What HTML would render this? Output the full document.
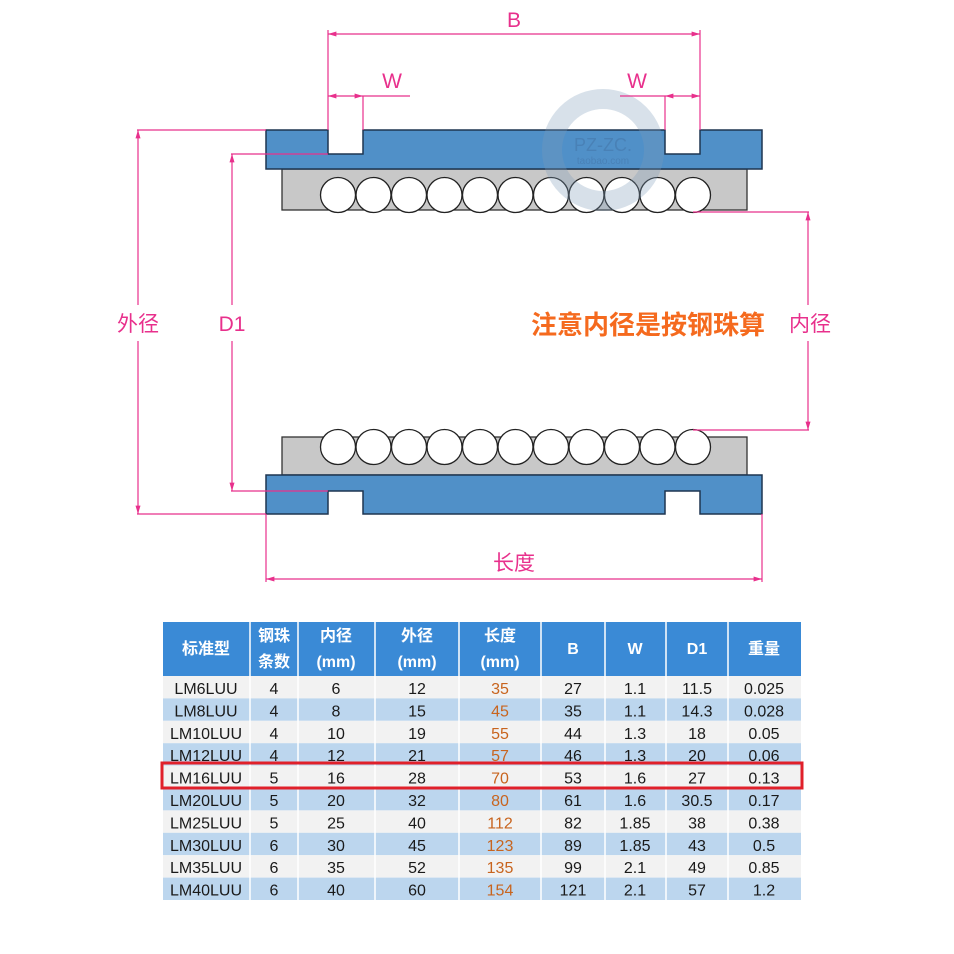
<!DOCTYPE html>
<html><head><meta charset="utf-8">
<style>
html,body{margin:0;padding:0;background:#fff;}
svg{display:block;}
text{font-family:"Liberation Sans","Noto Sans CJK SC",sans-serif;}
</style></head>
<body>
<svg width="954" height="954" viewBox="0 0 954 954" xmlns="http://www.w3.org/2000/svg">
<defs>
<marker id="a" viewBox="0 0 10 10" refX="10" refY="5" markerWidth="7" markerHeight="7" orient="auto-start-reverse"><path d="M0,2 L10,5 L0,8 z" fill="#e8308c"/></marker>
</defs>
<rect width="954" height="954" fill="#fff"/>

<rect x="282" y="169" width="465" height="41" fill="#c8c8c8" stroke="#333" stroke-width="1.3"/>
<path d="M266,130 H328 V154 H363 V130 H665 V154 H700 V130 H762 V169 H266 Z" fill="#5090c8" stroke="#1e3550" stroke-width="1.5"/>
<g fill="#fff" stroke="#222" stroke-width="1.3">
<circle cx="338" cy="195" r="17.5"/><circle cx="373.5" cy="195" r="17.5"/><circle cx="409" cy="195" r="17.5"/><circle cx="444.5" cy="195" r="17.5"/><circle cx="480" cy="195" r="17.5"/><circle cx="515.5" cy="195" r="17.5"/><circle cx="551" cy="195" r="17.5"/><circle cx="586.5" cy="195" r="17.5"/><circle cx="622" cy="195" r="17.5"/><circle cx="657.5" cy="195" r="17.5"/><circle cx="693" cy="195" r="17.5"/>
</g>

<rect x="282" y="437" width="465" height="38" fill="#c8c8c8" stroke="#333" stroke-width="1.3"/>
<g fill="#fff" stroke="#222" stroke-width="1.3">
<circle cx="338" cy="447" r="17.5"/><circle cx="373.5" cy="447" r="17.5"/><circle cx="409" cy="447" r="17.5"/><circle cx="444.5" cy="447" r="17.5"/><circle cx="480" cy="447" r="17.5"/><circle cx="515.5" cy="447" r="17.5"/><circle cx="551" cy="447" r="17.5"/><circle cx="586.5" cy="447" r="17.5"/><circle cx="622" cy="447" r="17.5"/><circle cx="657.5" cy="447" r="17.5"/><circle cx="693" cy="447" r="17.5"/>
</g>
<path d="M266,475 H762 V514 H700 V491 H665 V514 H363 V491 H328 V514 H266 Z" fill="#5090c8" stroke="#1e3550" stroke-width="1.5"/>

<g opacity="0.3">
<circle cx="603" cy="150" r="51" fill="none" stroke="#7d9bb8" stroke-width="20"/>
<text x="603" y="151" font-family="Liberation Mono,monospace" font-size="18" fill="#3a6090" text-anchor="middle">PZ-ZC.</text>
<text x="603" y="164" font-family="Liberation Mono,monospace" font-size="10" fill="#3a6090" text-anchor="middle">taobao.com</text>
</g>

<g stroke="#e8308c" stroke-width="1.2" fill="none">
<line x1="328" y1="30" x2="328" y2="130"/>
<line x1="700" y1="30" x2="700" y2="130"/>
<line x1="328" y1="34" x2="700" y2="34" marker-start="url(#a)" marker-end="url(#a)"/>
<line x1="363" y1="96" x2="363" y2="130"/>
<line x1="328" y1="96" x2="363" y2="96" marker-start="url(#a)" marker-end="url(#a)"/>
<line x1="363" y1="96" x2="410" y2="96"/>
<line x1="665" y1="96" x2="665" y2="130"/>
<line x1="665" y1="96" x2="700" y2="96" marker-start="url(#a)" marker-end="url(#a)"/>
<line x1="620" y1="96" x2="665" y2="96"/>
<line x1="137" y1="130" x2="266" y2="130"/>
<line x1="137" y1="514" x2="266" y2="514"/>
<line x1="138" y1="130" x2="138" y2="305" marker-start="url(#a)"/>
<line x1="138" y1="341" x2="138" y2="514" marker-end="url(#a)"/>
<line x1="231" y1="154" x2="328" y2="154"/>
<line x1="231" y1="491" x2="328" y2="491"/>
<line x1="232" y1="154" x2="232" y2="305" marker-start="url(#a)"/>
<line x1="232" y1="341" x2="232" y2="491" marker-end="url(#a)"/>
<line x1="693" y1="212" x2="809" y2="212"/>
<line x1="693" y1="430" x2="809" y2="430"/>
<line x1="808" y1="212" x2="808" y2="305" marker-start="url(#a)"/>
<line x1="808" y1="341" x2="808" y2="430" marker-end="url(#a)"/>
<line x1="266" y1="514" x2="266" y2="582"/>
<line x1="762" y1="514" x2="762" y2="582"/>
<line x1="266" y1="579" x2="762" y2="579" marker-start="url(#a)" marker-end="url(#a)"/>
</g>
<g fill="#e8308c" font-size="21" text-anchor="middle">
<text x="514" y="27">B</text>
<text x="392" y="88">W</text>
<text x="637" y="88">W</text>
<text x="138" y="331">外径</text>
<text x="232" y="331">D1</text>
<text x="810" y="331">内径</text>
<text x="514" y="570">长度</text>
</g>
<text x="648" y="334" fill="#f56a1e" font-size="26" font-weight="bold" text-anchor="middle">注意内径是按钢珠算</text>

<rect x="163" y="622" width="638" height="54" fill="#3a8ad6"/>
<g>
<rect x="163" y="676" width="638" height="22.4" fill="#f2f2f2"/>
<rect x="163" y="698.4" width="638" height="22.4" fill="#bcd6ee"/>
<rect x="163" y="720.8" width="638" height="22.4" fill="#f2f2f2"/>
<rect x="163" y="743.2" width="638" height="22.4" fill="#bcd6ee"/>
<rect x="163" y="765.6" width="638" height="22.4" fill="#f2f2f2"/>
<rect x="163" y="788" width="638" height="22.4" fill="#bcd6ee"/>
<rect x="163" y="810.4" width="638" height="22.4" fill="#f2f2f2"/>
<rect x="163" y="832.8" width="638" height="22.4" fill="#bcd6ee"/>
<rect x="163" y="855.2" width="638" height="22.4" fill="#f2f2f2"/>
<rect x="163" y="877.6" width="638" height="22.4" fill="#bcd6ee"/>
</g>
<g stroke="#fff" stroke-width="1.5">
<line x1="250" y1="622" x2="250" y2="900"/><line x1="298" y1="622" x2="298" y2="900"/><line x1="375" y1="622" x2="375" y2="900"/><line x1="459" y1="622" x2="459" y2="900"/><line x1="541" y1="622" x2="541" y2="900"/><line x1="605" y1="622" x2="605" y2="900"/><line x1="666" y1="622" x2="666" y2="900"/><line x1="728" y1="622" x2="728" y2="900"/>
</g>
<g fill="#fff" font-size="16" font-weight="bold" text-anchor="middle">
<text x="206" y="654">标准型</text>
<text x="274" y="641">钢珠</text><text x="274" y="667">条数</text>
<text x="336" y="641">内径</text><text x="336" y="667">(mm)</text>
<text x="417" y="641">外径</text><text x="417" y="667">(mm)</text>
<text x="500" y="641">长度</text><text x="500" y="667">(mm)</text>
<text x="573" y="654">B</text>
<text x="635" y="654">W</text>
<text x="697" y="654">D1</text>
<text x="764" y="654">重量</text>
</g>
<g font-size="16" fill="#1a1a1a" text-anchor="middle">
<g transform="translate(0,694)"><text x="206">LM6LUU</text><text x="274">4</text><text x="336">6</text><text x="417">12</text><text x="500" fill="#c8641e">35</text><text x="573">27</text><text x="635">1.1</text><text x="697">11.5</text><text x="764">0.025</text></g>
<g transform="translate(0,716.4)"><text x="206">LM8LUU</text><text x="274">4</text><text x="336">8</text><text x="417">15</text><text x="500" fill="#c8641e">45</text><text x="573">35</text><text x="635">1.1</text><text x="697">14.3</text><text x="764">0.028</text></g>
<g transform="translate(0,738.8)"><text x="206">LM10LUU</text><text x="274">4</text><text x="336">10</text><text x="417">19</text><text x="500" fill="#c8641e">55</text><text x="573">44</text><text x="635">1.3</text><text x="697">18</text><text x="764">0.05</text></g>
<g transform="translate(0,761.2)"><text x="206">LM12LUU</text><text x="274">4</text><text x="336">12</text><text x="417">21</text><text x="500" fill="#c8641e">57</text><text x="573">46</text><text x="635">1.3</text><text x="697">20</text><text x="764">0.06</text></g>
<g transform="translate(0,783.6)"><text x="206">LM16LUU</text><text x="274">5</text><text x="336">16</text><text x="417">28</text><text x="500" fill="#c8641e">70</text><text x="573">53</text><text x="635">1.6</text><text x="697">27</text><text x="764">0.13</text></g>
<g transform="translate(0,806)"><text x="206">LM20LUU</text><text x="274">5</text><text x="336">20</text><text x="417">32</text><text x="500" fill="#c8641e">80</text><text x="573">61</text><text x="635">1.6</text><text x="697">30.5</text><text x="764">0.17</text></g>
<g transform="translate(0,828.4)"><text x="206">LM25LUU</text><text x="274">5</text><text x="336">25</text><text x="417">40</text><text x="500" fill="#c8641e">112</text><text x="573">82</text><text x="635">1.85</text><text x="697">38</text><text x="764">0.38</text></g>
<g transform="translate(0,850.8)"><text x="206">LM30LUU</text><text x="274">6</text><text x="336">30</text><text x="417">45</text><text x="500" fill="#c8641e">123</text><text x="573">89</text><text x="635">1.85</text><text x="697">43</text><text x="764">0.5</text></g>
<g transform="translate(0,873.2)"><text x="206">LM35LUU</text><text x="274">6</text><text x="336">35</text><text x="417">52</text><text x="500" fill="#c8641e">135</text><text x="573">99</text><text x="635">2.1</text><text x="697">49</text><text x="764">0.85</text></g>
<g transform="translate(0,895.6)"><text x="206">LM40LUU</text><text x="274">6</text><text x="336">40</text><text x="417">60</text><text x="500" fill="#c8641e">154</text><text x="573">121</text><text x="635">2.1</text><text x="697">57</text><text x="764">1.2</text></g>
</g>
<rect x="162" y="763" width="640" height="25" fill="none" stroke="#e0202a" stroke-width="3"/>
</svg>
</body></html>
